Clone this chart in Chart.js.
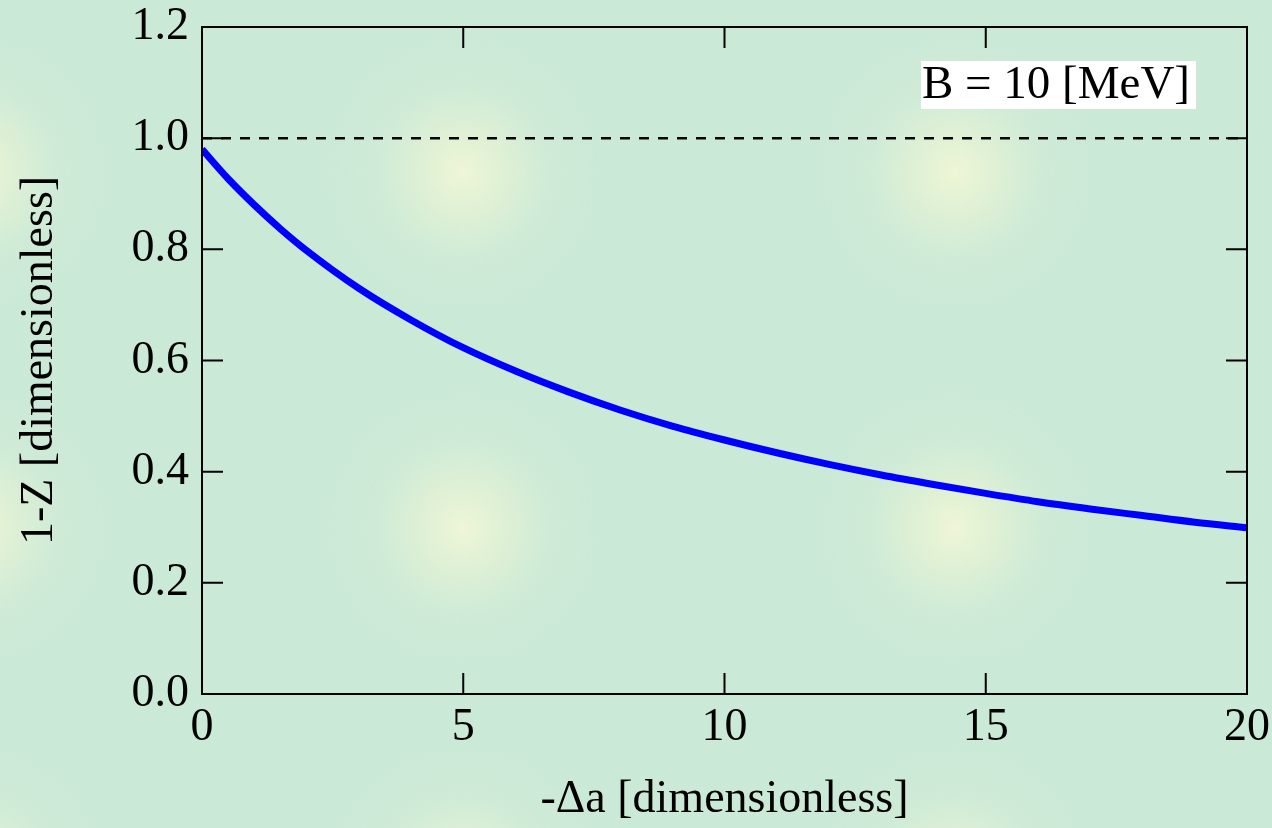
<!DOCTYPE html>
<html>
<head>
<meta charset="utf-8">
<script src="https://cdn.jsdelivr.net/npm/chart.js@4/dist/chart.umd.min.js"></script>
<style>
  html, body { margin:0; padding:0; }
  body {
    width:1272px; height:828px; overflow:hidden;
    background-color:#cbe9d7;
    background-image: radial-gradient(circle at 50% 50%, rgba(238,246,214,1) 0px, rgba(230,243,212,0.75) 40px, rgba(214,238,214,0.4) 85px, rgba(203,233,215,0) 135px);
    background-size:492px 355px;
    background-position:217px -5px;
  }
  #wrap { position:relative; width:1272px; height:828px; }
</style>
</head>
<body>
<div id="wrap"><canvas id="c"></canvas></div>
<script>
const deltaA = [0, 0.5, 1, 1.5, 2, 3, 4, 5, 6, 7, 8, 9, 10, 11, 12, 13, 14, 15, 16, 17, 18, 19, 20];
const oneMinusZ = [0.980, 0.927, 0.880, 0.837, 0.798, 0.730, 0.673, 0.623, 0.581, 0.544, 0.511, 0.482, 0.457, 0.434, 0.413, 0.394, 0.377, 0.361, 0.346, 0.333, 0.321, 0.309, 0.299];
const refLine = [1.0, 1.0];
const refX = [0, 20];
const xTicks = [0, 5, 10, 15, 20];
const yTicks = [0, 0.2, 0.4, 0.6, 0.8, 1.0, 1.2];
const labelText = 'B = 10 [MeV]';

const SERIF = "'Liberation Serif', 'DejaVu Serif', serif";

const frameTicks = {
  id: 'frameTicks',
  afterDatasetsDraw(chart) {
    const { ctx, chartArea: a, scales: { x, y } } = chart;
    ctx.save();
    ctx.strokeStyle = '#000';
    ctx.lineWidth = 2;
    ctx.strokeRect(a.left, a.top, a.right - a.left, a.bottom - a.top);
    const len = 21;
    ctx.beginPath();
    xTicks.forEach(v => {
      const px = x.getPixelForValue(v);
      ctx.moveTo(px, a.bottom); ctx.lineTo(px, a.bottom - len);
      ctx.moveTo(px, a.top); ctx.lineTo(px, a.top + len);
    });
    yTicks.forEach(v => {
      const py = y.getPixelForValue(v);
      ctx.moveTo(a.left, py); ctx.lineTo(a.left + len, py);
      ctx.moveTo(a.right, py); ctx.lineTo(a.right - len, py);
    });
    ctx.stroke();

    // label box
    ctx.font = '47px ' + SERIF;
    const bx = 921, by = 61;
    ctx.fillStyle = '#fff';
    ctx.fillRect(bx, by, 275, 48);
    ctx.fillStyle = '#000';
    ctx.textBaseline = 'middle';
    ctx.fillText(labelText, bx + 1, by + 25);
    ctx.restore();
  }
};

function noPad(s) { s.paddingTop = 0; s.paddingBottom = 0; s.paddingLeft = 0; s.paddingRight = 0; }

new Chart(document.getElementById('c'), {
  type: 'line',
  data: {
    datasets: [
      {
        label: '1-Z',
        data: deltaA.map((v, i) => ({ x: v, y: oneMinusZ[i] })),
        borderColor: '#0000ff',
        borderWidth: 7,
        pointRadius: 0,
        cubicInterpolationMode: 'monotone',
        order: 0
      },
      {
        label: 'ref',
        data: refX.map((v, i) => ({ x: v, y: refLine[i] })),
        borderColor: '#000',
        borderWidth: 2.5,
        borderDash: [10, 9],
        pointRadius: 0,
        order: 1
      }
    ]
  },
  options: {
    responsive: true,
    maintainAspectRatio: false,
    animation: false,
    layout: { padding: { left: 0, right: 25, top: 27, bottom: 0 } },
    plugins: { legend: { display: false }, tooltip: { enabled: false } },
    scales: {
      x: {
        type: 'linear', min: 0, max: 20,
        afterFit(s) { s.height = 134; noPad(s); },
        afterBuildTicks(s) { s.ticks = xTicks.map(v => ({ value: v })); },
        grid: { display: false, drawTicks: false },
        border: { display: false },
        ticks: { color: '#000', padding: 6, font: { family: SERIF, size: 46 }, maxRotation: 0 },
        title: { display: true, text: '-Δa [dimensionless]', color: '#000', font: { family: SERIF, size: 46 }, padding: { top: 0, bottom: 0 } }
      },
      y: {
        type: 'linear', min: 0, max: 1.2,
        afterFit(s) { s.width = 202; noPad(s); },
        afterBuildTicks(s) { s.ticks = yTicks.map(v => ({ value: v })); },
        grid: { display: false, drawTicks: false },
        border: { display: false },
        ticks: { color: '#000', padding: 13, font: { family: SERIF, size: 46 }, callback: v => v.toFixed(1) },
        title: { display: true, text: '1-Z [dimensionless]', color: '#000', font: { family: SERIF, size: 46 }, padding: { top: 12, bottom: 0 } }
      }
    }
  },
  plugins: [frameTicks]
});
</script>
</body>
</html>
